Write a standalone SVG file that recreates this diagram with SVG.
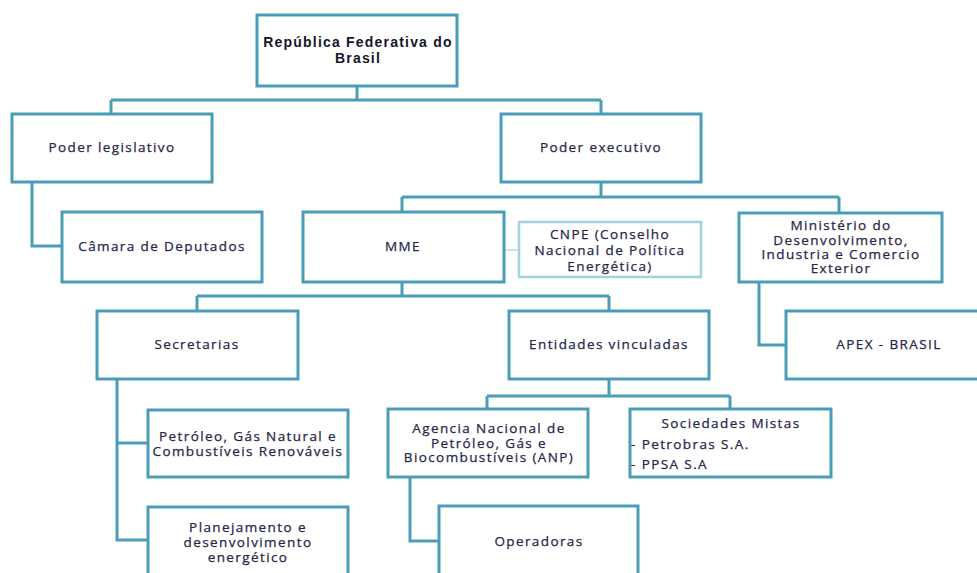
<svg xmlns="http://www.w3.org/2000/svg" width="977" height="573" viewBox="0 0 977 573">
<style>
.box{fill:#fff;stroke:#4a9db6;stroke-width:3}
.lite{fill:#fff;stroke:#a3d3e0;stroke-width:2.5}
.c{fill:none;stroke:#4a9db6;stroke-width:3}
.cl{fill:none;stroke:#a3d3e0;stroke-width:1.2}
text{font-family:"Open Sans","DejaVu Sans",sans-serif;font-size:13.5px;letter-spacing:1.4px;fill:#262648;stroke:#262648;stroke-width:0.25;text-anchor:middle}
.b{font-family:"Liberation Sans",Arial,sans-serif;font-weight:bold;font-size:14px;letter-spacing:1.2px;fill:#15152a;stroke:none}
.l{text-anchor:start}
</style>
<rect width="977" height="573" fill="#fff"/>
<g id="connectors">
<path class="c" d="M357,86V100M111,100H601M111,100V114M601,100V114"/>
<path class="c" d="M32,182V246H62"/>
<path class="c" d="M601,182V197M402,197H839M402,197V212M839,197V213"/>
<path class="cl" d="M504,250H519"/>
<path class="c" d="M759,282V345H786"/>
<path class="c" d="M402,282V296M197,296H609M197,296V311M609,296V311"/>
<path class="c" d="M117,379V540H148M117,443H148"/>
<path class="c" d="M609,379V396M487,396H730M487,396V409M730,396V409"/>
<path class="c" d="M410,477V541H439"/>
</g>
<g id="republica"><rect class="box" x="257" y="15" width="200" height="71"/><text class="b" x="358" y="47">República Federativa do</text><text class="b" x="358" y="63">Brasil</text></g>
<g id="legislativo"><rect class="box" x="12" y="114" width="200" height="68"/><text x="112" y="152">Poder legislativo</text></g>
<g id="executivo"><rect class="box" x="501" y="114" width="200" height="68"/><text x="601" y="152">Poder executivo</text></g>
<g id="camara"><rect class="box" x="62" y="212" width="200" height="70"/><text x="162" y="251">Câmara de Deputados</text></g>
<g id="mme"><rect class="box" x="303" y="212" width="201" height="70"/><text x="403" y="251">MME</text></g>
<g id="cnpe"><rect class="lite" x="519" y="222" width="182" height="55"/><text x="610" y="239">CNPE (Conselho</text><text x="610" y="254.5">Nacional de Política</text><text x="610" y="270.5">Energética)</text></g>
<g id="mdic"><rect class="box" x="739" y="213" width="203" height="69"/><text x="841" y="229.5">Ministério do</text><text x="841" y="244.5">Desenvolvimento,</text><text x="841" y="258.5">Industria e Comercio</text><text x="841" y="273">Exterior</text></g>
<g id="secretarias"><rect class="box" x="97" y="311" width="201" height="68"/><text x="197" y="349">Secretarias</text></g>
<g id="entidades"><rect class="box" x="509" y="311" width="200" height="68"/><text x="609" y="349">Entidades vinculadas</text></g>
<g id="apex"><rect class="box" x="786" y="311" width="200" height="68"/><text x="889" y="349">APEX - BRASIL</text></g>
<g id="petroleo"><rect class="box" x="148" y="410" width="200" height="67"/><text x="248" y="441">Petróleo, Gás Natural e</text><text x="248" y="456">Combustíveis Renováveis</text></g>
<g id="planejamento"><rect class="box" x="148" y="507" width="200" height="70"/><text x="248" y="532">Planejamento e</text><text x="248" y="547">desenvolvimento</text><text x="248" y="562">energético</text></g>
<g id="anp"><rect class="box" x="388" y="409" width="200" height="68"/><text x="489" y="433">Agencia Nacional de</text><text x="489" y="448">Petróleo, Gás e</text><text x="489" y="462">Biocombustíveis (ANP)</text></g>
<g id="sociedades"><rect class="box" x="630" y="409" width="201" height="68"/><text x="731" y="428">Sociedades Mistas</text><text class="l" x="631" y="449">- Petrobras S.A.</text><text class="l" x="631" y="469">- PPSA S.A</text></g>
<g id="operadoras"><rect class="box" x="439" y="506" width="199" height="70"/><text x="539" y="546">Operadoras</text></g>
</svg>
